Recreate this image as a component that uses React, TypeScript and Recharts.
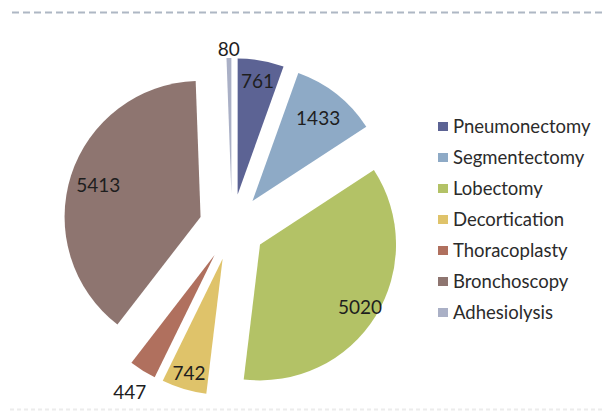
import React from 'react';
import { PieChart, Pie, Cell, Legend } from 'recharts';

const procedures = ['Pneumonectomy', 'Segmentectomy', 'Lobectomy', 'Decortication', 'Thoracoplasty', 'Bronchoscopy', 'Adhesiolysis'];
const counts = [761, 1433, 5020, 742, 447, 5413, 80];
const sliceColors = ['#5c6394', '#8eaac6', '#b3c266', '#dfc36a', '#b0705e', '#8e7570', '#aab0c6'];
// where each value label sits, as a share of the radius along the slice bisector
const labelRadius = [0.85, 0.78, 0.865, 0.87, 1.18, 0.79, 1.07];

const W = 605;
const H = 416;
const CENTER_X = 232;
const CENTER_Y = 227;
const RADIUS = 136;
const EXPLODE = 33;
const RAD = Math.PI / 180;
const FONT = 'Lato, "Open Sans", sans-serif';

const data = procedures.map((name, i) => ({ name, value: counts[i] }));
const total = counts.reduce((a, b) => a + b, 0);

function sliceCenter(index: number) {
    const before = counts.slice(0, index).reduce((a, b) => a + b, 0);
    const mid = ((before + counts[index] / 2) / total) * 360;
    return {
        x: CENTER_X + EXPLODE * Math.sin(mid * RAD),
        y: CENTER_Y - EXPLODE * Math.cos(mid * RAD),
    };
}

function ChartLegend() {
    return (
        <div style={{ fontFamily: FONT }}>
            {procedures.map((name, i) => (
                <div key={name} style={{ display: 'flex', alignItems: 'center', height: 31 }}>
                    <span style={{ width: 10, height: 9, background: sliceColors[i], marginRight: 5, flexShrink: 0 }} />
                    <span style={{ fontSize: 18.5, color: '#2b2b2b', whiteSpace: 'nowrap', lineHeight: '31px' }}>{name}</span>
                </div>
            ))}
        </div>
    );
}

export default function App() {
    return (
        <div style={{ position: 'absolute', left: 0, top: 0, width: W, height: H, background: '#fff' }}>
            <svg width={W} height={H} style={{ position: 'absolute', left: 0, top: 0 }}>
                <line x1={12} y1={12.5} x2={W} y2={12.5} stroke="#aeb7c4" strokeWidth={2} strokeDasharray="7 4" />
                <line x1={10} y1={409.5} x2={W} y2={409.5} stroke="#ececec" strokeWidth={2} strokeDasharray="4 3" />
            </svg>
            <div style={{ position: 'absolute', left: 0, top: 0 }}>
                <PieChart width={W} height={H} margin={{ top: 0, right: 0, bottom: 0, left: 0 }}>
                    {procedures.map((name, i) => {
                        const c = sliceCenter(i);
                        return (
                            <Pie
                                key={name}
                                data={data}
                                dataKey="value"
                                nameKey="name"
                                cx={c.x}
                                cy={c.y}
                                innerRadius={0}
                                outerRadius={RADIUS}
                                startAngle={90}
                                endAngle={-270}
                                stroke="none"
                                legendType="none"
                                isAnimationActive={false}
                                labelLine={false}
                                label={(p: any) => {
                                    if (p.index !== i) return null;
                                    const r = p.outerRadius * labelRadius[i];
                                    const x = p.cx + r * Math.cos(-p.midAngle * RAD);
                                    const y = p.cy + r * Math.sin(-p.midAngle * RAD);
                                    return (
                                        <text x={x} y={y} textAnchor="middle" dominantBaseline="central"
                                            fontFamily={FONT} fontSize={19} fill="#1e1e1e">
                                            {counts[i]}
                                        </text>
                                    );
                                }}
                            >
                                {data.map((d, j) => (
                                    <Cell key={d.name} fill={j === i ? sliceColors[j] : 'transparent'} stroke="none" />
                                ))}
                            </Pie>
                        );
                    })}
                    <Legend
                        content={() => <ChartLegend />}
                        wrapperStyle={{ position: 'absolute', left: 438, top: 111, width: 167 }}
                    />
                </PieChart>
            </div>
        </div>
    );
}
